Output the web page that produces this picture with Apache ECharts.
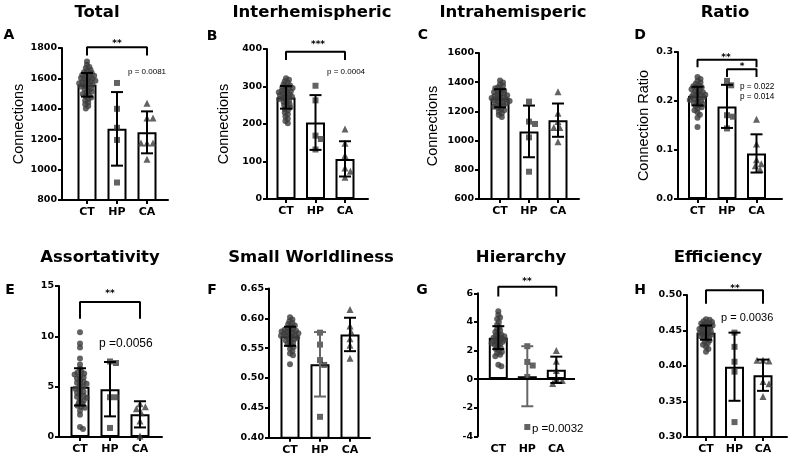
<!DOCTYPE html>
<html>
<head>
<meta charset="utf-8">
<script src="https://cdn.jsdelivr.net/npm/echarts@6/dist/echarts.min.js"></script>
<style>
html,body{margin:0;padding:0;background:#fff;}
#c{width:800px;height:474px;}
</style>
</head>
<body>
<div id="c"></div>
<script>
// ---------- DATA ----------
const categories = ['CT', 'HP', 'CA'];

// A: Total
const totalTicks = [800, 1000, 1200, 1400, 1600, 1800];
const totalMean = [1558, 1268, 1245];
const totalSD = [78, 242, 138];
const totalCT = [1712,1690,1675,1668,1655,1648,1640,1635,1628,1622,1618,1612,1608,1602,1598,1594,1590,1585,1580,1576,1572,1568,1562,1558,1552,1546,1540,1535,1528,1520,1512,1505,1498,1490,1482,1475,1465,1455,1442,1430,1418,1402];
const totalHP = [1570, 1400, 1275, 1195, 915];
const totalCA = [1437, 1340, 1340, 1175, 1175, 1175, 1068];

// B: Interhemispheric
const interTicks = [0, 100, 200, 300, 400];
const interMean = [271, 204, 107];
const interSD = [30, 73, 47];
const interCT = [322,318,314,310,306,303,300,298,296,294,291,289,287,285,283,281,279,277,275,273,271,269,267,265,262,259,256,253,250,247,244,240,236,231,226,220,214,208,202];
const interHP = [302, 263, 169, 160, 132];
const interCA = [187, 149, 116, 83, 74, 58];

// C: Intrahemisperic
const intraTicks = [600, 800, 1000, 1200, 1400, 1600];
const intraMean = [1290, 1063, 1140];
const intraSD = [62, 177, 114];
const intraCT = [1412,1398,1385,1375,1366,1358,1350,1344,1338,1332,1326,1321,1316,1311,1306,1301,1296,1292,1288,1284,1280,1276,1271,1266,1261,1256,1250,1244,1238,1231,1224,1216,1208,1198,1188,1176,1162];
const intraHP = [1267, 1130, 1114, 1022, 787];
const intraCA = [1335, 1187, 1130, 1090, 1090, 992];

// D: Ratio
const ratioTicks = [0.0, 0.1, 0.2, 0.3];
const ratioMean = [0.210, 0.189, 0.093];
const ratioSD = [0.019, 0.044, 0.039];
const ratioCT = [0.249,0.245,0.241,0.238,0.235,0.232,0.230,0.228,0.226,0.224,0.222,0.220,0.218,0.216,0.214,0.213,0.211,0.210,0.208,0.207,0.205,0.204,0.202,0.200,0.198,0.196,0.194,0.192,0.190,0.187,0.184,0.181,0.177,0.172,0.166,0.147];
const ratioHP = [0.241, 0.232, 0.171, 0.168, 0.144];
const ratioCA = [0.163, 0.112, 0.080, 0.072, 0.068, 0.060];

// E: Assortativity
const assortTicks = [0, 5, 10, 15];
const assortMean = [4.98, 4.75, 2.25];
const assortSD = [1.85, 2.7, 1.3];
const assortCT = [10.4,9.3,8.9,7.8,7.2,6.8,6.5,6.4,6.3,6.2,6.0,5.9,5.8,5.6,5.5,5.4,5.3,5.2,5.0,4.9,4.8,4.6,4.5,4.4,4.2,4.1,4.0,3.9,3.7,3.6,3.4,3.3,3.1,3.0,2.9,2.6,2.2,1.0,0.8];
const assortHP = [7.5, 7.35, 3.95, 3.95, 0.9];
const assortCA = [3.3, 3.0, 2.8, 2.4, 1.6, 0.1];

// F: Small Worldliness
const swTicks = [0.40, 0.45, 0.50, 0.55, 0.60, 0.65];
const swMean = [0.570, 0.523, 0.573];
const swSD = [0.016, 0.054, 0.028];
const swCT = [0.602,0.598,0.595,0.592,0.590,0.588,0.586,0.584,0.582,0.581,0.580,0.579,0.578,0.577,0.576,0.575,0.574,0.573,0.572,0.571,0.570,0.569,0.568,0.566,0.565,0.563,0.561,0.559,0.557,0.555,0.552,0.549,0.545,0.541,0.538,0.523];
const swHP = [0.576, 0.556, 0.530, 0.522, 0.435];
const swCA = [0.615, 0.587, 0.577, 0.566, 0.555, 0.533];

// G: Hierarchy
const hierTicks = [-4, -2, 0, 2, 4, 6];
const hierMean = [2.9, 0.2, 0.65];
const hierSD = [0.8, 2.1, 0.92];
const hierCT = [4.75,4.5,4.3,4.2,4.0,3.8,3.65,3.5,3.4,3.3,3.2,3.1,3.05,3.0,2.95,2.9,2.85,2.8,2.75,2.7,2.65,2.6,2.55,2.5,2.45,2.4,2.3,2.2,2.1,2.0,1.9,1.8,1.7,1.6,1.0,0.9];
const hierHP = [2.3, 1.2, 0.95, 0.15, -3.35];
const hierCA = [2.0, 1.25, 0.6, 0.05, -0.1, -0.3];

// H: Efficiency
const effTicks = [0.30, 0.35, 0.40, 0.45, 0.50];
const effMean = [0.447, 0.399, 0.387];
const effSD = [0.010, 0.048, 0.022];
const effCT = [0.466,0.465,0.463,0.462,0.461,0.460,0.459,0.458,0.457,0.456,0.455,0.454,0.453,0.452,0.451,0.450,0.449,0.448,0.447,0.446,0.445,0.444,0.443,0.442,0.441,0.440,0.438,0.436,0.434,0.432,0.430,0.427,0.424,0.420];
const effHP = [0.447, 0.427, 0.406, 0.392, 0.321];
const effCA = [0.408, 0.407, 0.408, 0.378, 0.375, 0.357];

// Significance brackets: [panelIndex, fromCat, toCat, topValue, dropValue]
const brackets = [
  [0, 0, 2, 1805, 1750],
  [1, 0, 2, 393, 371],
  [3, 0, 2, 0.284, 0.269],
  [3, 1, 2, 0.265, 0.249],
  [4, 0, 2, 13.4, 11.75],
  [6, 0, 2, 6.45, 5.77],
  [7, 0, 2, 0.5066, 0.4877]
];

// ---------- LAYOUT / STYLE ----------
const panels = [
  {title:'Total', letter:'A', yName:'Connections', nameGap:31, ticks:totalTicks, dec:0, mean:totalMean, sd:totalSD, ct:totalCT, hp:totalHP, ca:totalCA,
   L:{left:62, top:48, right:168, bottom:200, c0:87, sp:30}, T:[97,13], Lt:[9,35]},
  {title:'Interhemispheric', letter:'B', yName:'Connections', nameGap:36, ticks:interTicks, dec:0, mean:interMean, sd:interSD, ct:interCT, hp:interHP, ca:interCA,
   L:{left:267, top:49, right:368, bottom:199, c0:286, sp:29.5}, T:[312,13], Lt:[212,36]},
  {title:'Intrahemisperic', letter:'C', yName:'Connections', nameGap:39, ticks:intraTicks, dec:0, mean:intraMean, sd:intraSD, ct:intraCT, hp:intraHP, ca:intraCA,
   L:{left:479, top:53, right:579, bottom:199, c0:500, sp:29}, T:[513,13], Lt:[423,35]},
  {title:'Ratio', letter:'D', yName:'Connection Ratio', nameGap:27, ticks:ratioTicks, dec:1, mean:ratioMean, sd:ratioSD, ct:ratioCT, hp:ratioHP, ca:ratioCA,
   L:{left:678, top:52, right:782, bottom:199, c0:697.5, sp:29.5}, T:[725,13], Lt:[640,35]},
  {title:'Assortativity', letter:'E', yName:'', nameGap:30, ticks:assortTicks, dec:0, mean:assortMean, sd:assortSD, ct:assortCT, hp:assortHP, ca:assortCA,
   L:{left:59, top:286, right:162, bottom:437, c0:80, sp:30}, T:[100,258], Lt:[10,290]},
  {title:'Small Worldliness', letter:'F', yName:'', nameGap:30, ticks:swTicks, dec:2, mean:swMean, sd:swSD, ct:swCT, hp:swHP, ca:swCA,
   L:{left:269, top:288.5, right:370, bottom:437.7, c0:290, sp:30}, T:[311,258], Lt:[212,290], errGrey:[1]},
  {title:'Hierarchy', letter:'G', yName:'', nameGap:30, ticks:hierTicks, dec:0, mean:hierMean, sd:hierSD, ct:hierCT, hp:hierHP, ca:hierCA,
   L:{left:478, top:293.3, right:575, bottom:436.3, c0:498.3, sp:29}, T:[521,258], Lt:[422,290], zeroLine:true, errGrey:[1]},
  {title:'Efficiency', letter:'H', yName:'', nameGap:30, ticks:effTicks, dec:2, mean:effMean, sd:effSD, ct:effCT, hp:effHP, ca:effCA,
   L:{left:687, top:295, right:787, bottom:437, c0:706, sp:28.5}, T:[718,258], Lt:[640,290]}
];

const texts = [
  // [text, x, y, size, bold, align]
  ['p = 0.0081', 128, 72, 8, false, 'left'],
  ['p = 0.0004', 327, 72, 8, false, 'left'],
  ['p = 0.022', 740, 87, 8.2, false, 'left'],
  ['p = 0.014', 740, 97, 8.2, false, 'left'],
  ['p =0.0056', 99, 344, 12, false, 'left'],
  ['p =0.0032', 532, 429, 11.5, false, 'left'],
  ['p = 0.0036', 721, 318, 11, false, 'left'],
  ['**', 117, 44, 9, true, 'center'],
  ['***', 318, 45, 9, true, 'center'],
  ['**', 726, 58, 9, true, 'center'],
  ['*', 742, 67, 9, true, 'center'],
  ['**', 110, 294, 9, true, 'center'],
  ['**', 527, 282, 9, true, 'center'],
  ['**', 735, 289, 9, true, 'center']
];

const BOLD = '"DejaVu Sans"';
const SANS = '"Liberation Sans", Arial, sans-serif';
const PT = '#3c3c3c';

function swarm(values, cat, pxX, pxY, minDist) {
  const placed = [];
  return values.map(v => {
    const py = v * pxY;
    let off = 0;
    for (let k = 0; k < 400; k++) {
      const cand = k === 0 ? 0 : (k % 2 ? 1 : -1) * Math.ceil(k / 2) * 0.6;
      if (placed.every(p => Math.hypot(p[0] - cand, p[1] - py) >= minDist)) { off = cand; break; }
    }
    placed.push([off, py]);
    return [cat + off / pxX, v];
  });
}

const grid = [], xAxis = [], yAxis = [], series = [], graphic = [];

panels.forEach((p, i) => {
  const L = p.L;
  const w = L.right - L.left, h = L.bottom - L.top;
  const xmin = -(L.c0 - L.left) / L.sp;
  const xmax = (L.right - L.c0) / L.sp;
  const ymin = p.ticks[0], ymax = p.ticks[p.ticks.length - 1];
  const yint = p.ticks[1] - p.ticks[0];
  const pxX = w / (xmax - xmin), pxY = h / (ymax - ymin);

  grid.push({left: L.left, top: L.top, width: w, height: h});
  xAxis.push({
    type: 'value', gridIndex: i, min: xmin, max: xmax,
    splitLine: {show: false},
    axisLine: {show: !p.zeroLine, onZero: false, lineStyle: {color: '#000', width: 2}},
    axisTick: {show: !p.zeroLine, customValues: [0, 1, 2], length: 4, lineStyle: {color: '#000', width: 2}},
    axisLabel: {customValues: [0, 1, 2], formatter: v => categories[Math.round(v)] || '',
      fontFamily: BOLD, fontWeight: 'bold', fontSize: 11, color: '#000', margin: 7}
  });
  yAxis.push({
    type: 'value', gridIndex: i, min: ymin, max: ymax, interval: yint,
    splitLine: {show: false},
    axisLine: {show: true, onZero: false, lineStyle: {color: '#000', width: 2}},
    axisTick: {show: true, length: 4, lineStyle: {color: '#000', width: 2}},
    axisLabel: {formatter: v => (+v).toFixed(p.dec), fontFamily: BOLD, fontWeight: 'bold', fontSize: 9.5, color: '#000', margin: 5},
    name: p.yName, nameLocation: 'middle', nameGap: p.nameGap,
    nameTextStyle: {fontFamily: SANS, fontSize: 14.5, color: '#000'}
  });

  const bar = {
    type: 'bar', xAxisIndex: i, yAxisIndex: i, barWidth: 19, z: 2,
    data: p.mean.map((m, j) => [j, m]),
    itemStyle: {color: '#fff', borderColor: '#000', borderWidth: 2}
  };
  if (p.zeroLine) {
    bar.markLine = {silent: true, symbol: ['none', 'none'], label: {show: false},
      lineStyle: {color: '#000', width: 2, type: 'solid'}, data: [{yAxis: 0}]};
  }
  series.push(bar);

  const groups = [[p.ct, 'circle', 6, 3.2], [p.hp, 'rect', 6, 6], [p.ca, 'triangle', 7, 6]];
  groups.forEach((g, j) => {
    series.push({
      type: 'scatter', xAxisIndex: i, yAxisIndex: i, z: 3,
      symbol: g[1], symbolSize: g[2],
      itemStyle: {color: PT},
      data: swarm(g[0], j, pxX, pxY, g[3])
    });
  });

  const grey = p.errGrey || [];
  series.push({
    type: 'custom', xAxisIndex: i, yAxisIndex: i, z: 4,
    encode: {x: 0, y: 1},
    data: p.mean.map((m, j) => [j, m, p.sd[j]]),
    renderItem: function (params, api) {
      const x = api.value(0), m = api.value(1), s = api.value(2);
      const t = api.coord([x, m + s]), b = api.coord([x, m - s]);
      const col = grey.indexOf(params.dataIndex) >= 0 ? '#666' : '#000';
      const st = {stroke: col, lineWidth: 2, fill: null};
      return {type: 'group', children: [
        {type: 'line', shape: {x1: t[0], y1: t[1], x2: b[0], y2: b[1]}, style: st},
        {type: 'line', shape: {x1: t[0] - 6, y1: t[1], x2: t[0] + 6, y2: t[1]}, style: st},
        {type: 'line', shape: {x1: b[0] - 6, y1: b[1], x2: b[0] + 6, y2: b[1]}, style: st}
      ]};
    }
  });

  graphic.push({type: 'text', x: p.T[0], y: p.T[1],
    style: {text: p.title, fontFamily: BOLD, fontWeight: 'bold', fontSize: 16.5, fill: '#000',
      align: 'center', verticalAlign: 'middle', textAlign: 'center', textVerticalAlign: 'middle'}});
  graphic.push({type: 'text', x: p.Lt[0], y: p.Lt[1],
    style: {text: p.letter, fontFamily: BOLD, fontWeight: 'bold', fontSize: 14, fill: '#000',
      align: 'center', verticalAlign: 'middle', textAlign: 'center', textVerticalAlign: 'middle'}});
});

brackets.forEach(b => {
  const [pi, f, t, top, drop] = b;
  series.push({
    type: 'line', xAxisIndex: pi, yAxisIndex: pi, z: 5, clip: false,
    symbol: 'none', silent: true,
    lineStyle: {color: '#000', width: 2},
    data: [[f, drop], [f, top], [t, top], [t, drop]]
  });
});

texts.forEach(tx => {
  graphic.push({type: 'text', x: tx[1], y: tx[2],
    style: {text: tx[0], fontFamily: tx[4] ? BOLD : SANS, fontWeight: tx[4] ? 'bold' : 'normal',
      fontSize: tx[3], fill: '#000', align: tx[5], verticalAlign: 'middle',
      textAlign: tx[5], textVerticalAlign: 'middle'}});
});

const chart = echarts.init(document.getElementById('c'));
chart.setOption({
  animation: false,
  backgroundColor: '#fff',
  grid, xAxis, yAxis, series, graphic
});
</script>
</body>
</html>
